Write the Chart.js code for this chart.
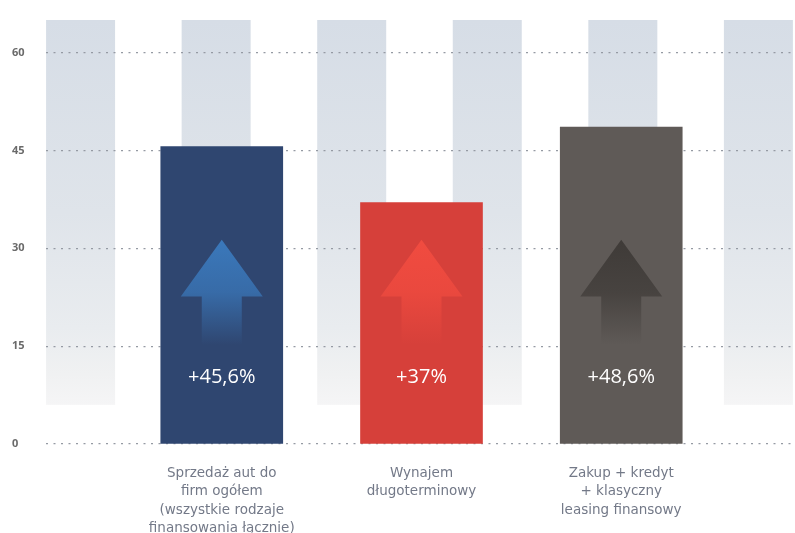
<!DOCTYPE html>
<html lang="pl">
<head>
<meta charset="utf-8">
<title>Wzrost sprzedaży aut do firm</title>
<script src="https://cdn.jsdelivr.net/npm/chart.js@4.4.1/dist/chart.umd.min.js"></script>
<style>
  html, body { margin: 0; padding: 0; background: #ffffff; }
  #wrap { width: 795px; height: 533px; position: relative; }
</style>
</head>
<body>
<div id="wrap"><canvas id="chart"></canvas></div>
<script>
// Categories (multi-line axis labels)
const categories = [
  ['Sprzedaż aut do', 'firm ogółem', '(wszystkie rodzaje', 'finansowania łącznie)'],
  ['Wynajem', 'długoterminowy'],
  ['Zakup + kredyt', '+ klasyczny', 'leasing finansowy']
];
// Position of each category on the x axis
const categoryPositions = [1, 2, 3];
// Growth in percent
const growthValues = [45.6, 37, 48.6];
const valueLabels = ['+45,6%', '+37%', '+48,6%'];
// Value axis ticks
const yTicks = [0, 15, 30, 45, 60];
// Decorative backdrop columns: slots and value range they span
const backdropSlots = [0, 1, 2, 3, 4, 5];
const backdropRange = [6, 65];

const barColors = ['#2f4670', '#d6403a', '#5f5a57'];
const arrowColors = ['#3b7bbf', '#f24c40', '#3d3936'];

const FONT = '"Open Sans", "Noto Sans", sans-serif';
const LABEL_FONT = '"DejaVu Sans", Verdana, sans-serif';

function rgba(hex, a) {
  const n = parseInt(hex.slice(1), 16);
  return `rgba(${(n >> 16) & 255},${(n >> 8) & 255},${n & 255},${a})`;
}

// Light gradient columns behind the grid
const backdropPlugin = {
  id: 'backdrop',
  beforeDraw(chart) {
    const { ctx } = chart;
    const xs = chart.scales.xBg;
    const ys = chart.scales.y;
    const top = ys.getPixelForValue(backdropRange[1]);
    const bottom = ys.getPixelForValue(backdropRange[0]);
    const w = 69;
    const g = ctx.createLinearGradient(0, top, 0, bottom);
    g.addColorStop(0, '#d6dde6');
    g.addColorStop(0.5, '#dfe4ea');
    g.addColorStop(0.8, '#e9ecef');
    g.addColorStop(0.92, '#f0f1f2');
    g.addColorStop(1, '#f5f5f6');
    ctx.save();
    ctx.fillStyle = g;
    backdropSlots.forEach(s => {
      const cx = xs.getPixelForValue(s);
      ctx.fillRect(cx - w / 2, top, w, bottom - top);
    });
    ctx.restore();
  }
};

// Up arrows and percentage labels inside the bars
const arrowPlugin = {
  id: 'arrows',
  afterDatasetsDraw(chart) {
    const { ctx } = chart;
    const ys = chart.scales.y;
    const meta = chart.getDatasetMeta(0);
    const tipY = ys.getPixelForValue(31.3);
    const baseY = ys.getPixelForValue(22.6);
    const endY = ys.getPixelForValue(15.2);
    const labelY = ys.getPixelForValue(10.3);
    meta.data.forEach((bar, i) => {
      const cx = bar.x;
      const g = ctx.createLinearGradient(0, tipY, 0, endY);
      g.addColorStop(0, rgba(arrowColors[i], 0.95));
      g.addColorStop(0.5, rgba(arrowColors[i], 0.7));
      g.addColorStop(1, rgba(arrowColors[i], 0));
      ctx.save();
      ctx.fillStyle = g;
      ctx.beginPath();
      ctx.moveTo(cx, tipY);
      ctx.lineTo(cx + 41, baseY);
      ctx.lineTo(cx + 20, baseY);
      ctx.lineTo(cx + 20, endY);
      ctx.lineTo(cx - 20, endY);
      ctx.lineTo(cx - 20, baseY);
      ctx.lineTo(cx - 41, baseY);
      ctx.closePath();
      ctx.fill();
      ctx.fillStyle = '#ffffff';
      ctx.font = `20px ${FONT}`;
      ctx.textAlign = 'center';
      ctx.textBaseline = 'middle';
      ctx.fillText(valueLabels[i], cx, labelY);
      ctx.restore();
    });
  }
};

new Chart(document.getElementById('chart'), {
  type: 'bar',
  data: {
    datasets: [{
      data: categoryPositions.map((x, i) => ({ x, y: growthValues[i] })),
      backgroundColor: barColors,
      borderWidth: 0,
      barThickness: 122
    }]
  },
  options: {
    responsive: true,
    maintainAspectRatio: false,
    animation: false,
    layout: { padding: { top: 20, left: 12, right: 0, bottom: 0 } },
    plugins: { legend: { display: false }, tooltip: { enabled: false } },
    scales: {
      x: {
        type: 'linear',
        offset: false,
        min: 0.12,
        max: 3.87,
        grid: { display: false, drawTicks: false, offset: false },
        border: { display: false },
        afterBuildTicks: s => { s.ticks = categoryPositions.map(v => ({ value: v })); },
        afterFit: s => { s.height = 89; },
        ticks: {
          padding: 20,
          maxRotation: 0,
          autoSkip: false,
          color: '#737988',
          font: { family: LABEL_FONT, size: 13.5, lineHeight: '18.5px' },
          callback: (v) => categories[categoryPositions.indexOf(v)]
        }
      },
      xBg: {
        type: 'linear',
        display: false,
        offset: false,
        grid: { offset: false },
        min: -0.255,
        max: 5.27
      },
      y: {
        min: 0,
        max: 65,
        border: { display: false, dash: [2, 5.5] },
        grid: {
          color: '#959aa3',
          lineWidth: 1.2,
          drawTicks: false
        },
        afterBuildTicks: s => { s.ticks = yTicks.map(v => ({ value: v })); },
        afterFit: s => { s.width = 34; },
        ticks: {
          crossAlign: 'far',
          padding: 0,
          color: '#6a6a6a',
          font: { family: FONT, size: 11, weight: 'bold' }
        }
      }
    }
  },
  plugins: [backdropPlugin, arrowPlugin]
});
</script>
</body>
</html>
